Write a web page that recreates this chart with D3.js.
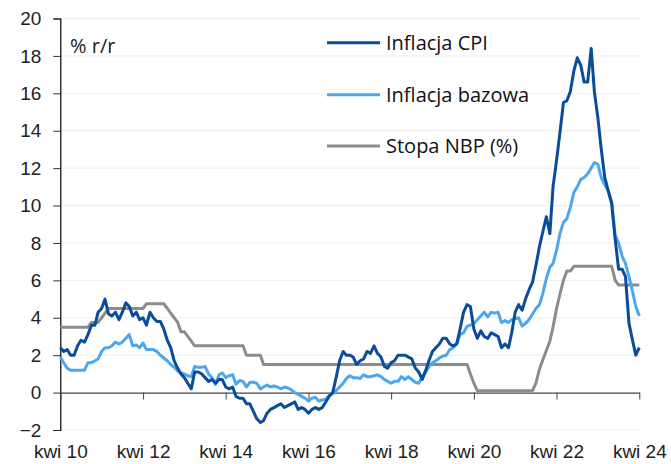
<!DOCTYPE html>
<meta charset="utf-8">
<style>
body { margin: 0; background: #fff; }
svg { display: block; font-family: "Open Sans", sans-serif; }
.tick_y text, .tick_x text { font-size: 19px; fill: #222; }
.leg { font-size: 20px; fill: #111; }
.unit { font-size: 20px; fill: #222; }
</style>
<svg width="671" height="464"></svg>
<script src="https://d3js.org/d3.v7.min.js"></script>
<script>
// monthly, kwi 2010 - kwi 2024
var firstMonth = new Date(2010, 3, 1),
    lastMonth = new Date(2024, 3, 1);

var cpi = [
  2.4, 2.2, 2.3, 2.0, 2.0, 2.5, 2.8, 2.7, 3.1,
  3.6, 3.6, 4.3, 4.5, 5.0, 4.2, 4.1, 4.3, 3.9, 4.3, 4.8, 4.6,
  4.1, 4.3, 3.9, 4.0, 3.6, 4.3, 4.0, 3.8, 3.8, 3.4, 2.8, 2.4,
  1.7, 1.3, 1.0, 0.8, 0.5, 0.2, 1.1, 1.1, 1.0, 0.8, 0.6, 0.7,
  0.5, 0.7, 0.7, 0.3, 0.2, 0.3, -0.2, -0.3, -0.3, -0.6, -0.6, -1.0,
  -1.4, -1.6, -1.5, -1.1, -0.9, -0.8, -0.7, -0.6, -0.8, -0.7, -0.6, -0.5,
  -0.9, -0.8, -0.9, -1.1, -0.9, -0.8, -0.9, -0.8, -0.5, -0.2, 0.0, 0.8,
  1.7, 2.2, 2.0, 2.0, 1.9, 1.5, 1.7, 1.8, 2.2, 2.1, 2.5, 2.1,
  1.9, 1.4, 1.3, 1.6, 1.7, 2.0, 2.0, 2.0, 1.9, 1.8, 1.3, 1.1,
  0.7, 1.2, 1.7, 2.2, 2.4, 2.6, 2.9, 2.9, 2.6, 2.5, 2.6, 3.4,
  4.3, 4.7, 4.6, 3.4, 2.9, 3.3, 3.0, 2.9, 3.2, 3.1, 3.0, 2.4,
  2.6, 2.4, 3.2, 4.3, 4.7, 4.4, 5.0, 5.5, 5.9, 6.8, 7.8, 8.6,
  9.4, 8.5, 11.0, 12.4, 13.9, 15.5, 15.6, 16.1, 17.2, 17.9, 17.5, 16.6,
  16.6, 18.4, 16.1, 14.7, 13.0, 11.5, 10.8, 10.1, 8.2, 6.6, 6.6, 6.2,
  3.7, 2.8, 2.0, 2.4
];

var core = [
  1.9, 1.6, 1.3, 1.2, 1.2, 1.2, 1.2, 1.2, 1.6,
  1.6, 1.7, 1.8, 2.2, 2.4, 2.4, 2.5, 2.7, 2.6, 2.7, 2.9, 3.1,
  2.5, 2.55, 2.4, 2.65, 2.3, 2.3, 2.3, 2.2, 2.0, 1.85, 1.7, 1.5,
  1.35, 1.15, 1.05, 1.0, 0.9, 0.85, 1.4, 1.35, 1.35, 1.4, 1.0, 0.8,
  0.45, 0.95, 1.05, 0.8, 0.9, 0.95, 0.45, 0.65, 0.6, 0.3, 0.55, 0.55,
  0.5, 0.2, 0.3, 0.4, 0.3, 0.35, 0.3, 0.2, 0.3, 0.25, 0.15, 0.0,
  -0.1, -0.2, -0.3, -0.45, -0.3, -0.25, -0.45, -0.4, -0.35, -0.15, -0.05, 0.1,
  0.3, 0.5, 0.75, 0.9, 0.8, 0.8, 0.75, 0.95, 0.85, 0.85, 0.9, 0.95,
  0.85, 0.7, 0.6, 0.5, 0.6, 0.6, 0.85, 0.7, 0.85, 0.7, 0.55, 0.5,
  0.85, 1.1, 1.4, 1.6, 1.7, 1.85, 1.95, 2.0, 2.3, 2.4, 2.6, 3.1,
  3.2, 3.55, 3.6, 3.7, 3.9, 4.1, 4.3, 4.05, 4.3, 4.25, 4.3, 3.75,
  3.85, 3.75, 3.9, 3.95, 4.0, 3.55, 3.7, 3.9, 4.2, 4.5, 4.7, 5.3,
  6.1, 6.7, 6.9, 7.6, 8.5, 9.1, 9.3, 9.9, 10.7, 11.0, 11.4, 11.5,
  11.7, 12.0, 12.3, 12.2, 11.5, 11.1, 10.8, 10.2, 8.4, 8.0, 7.3, 6.9,
  6.2, 5.4, 4.6, 4.1
];

var nbp = [
  3.5, 3.5, 3.5, 3.5, 3.5, 3.5, 3.5, 3.5, 3.5,
  3.75, 3.75, 3.75, 4.0, 4.25, 4.5, 4.5, 4.5, 4.5, 4.5, 4.5, 4.5,
  4.5, 4.5, 4.5, 4.5, 4.75, 4.75, 4.75, 4.75, 4.75, 4.75, 4.5, 4.25,
  4.0, 3.75, 3.25, 3.25, 3.0, 2.75, 2.5, 2.5, 2.5, 2.5, 2.5, 2.5,
  2.5, 2.5, 2.5, 2.5, 2.5, 2.5, 2.5, 2.5, 2.5, 2.0, 2.0, 2.0,
  2.0, 2.0, 1.5, 1.5, 1.5, 1.5, 1.5, 1.5, 1.5, 1.5, 1.5, 1.5,
  1.5, 1.5, 1.5, 1.5, 1.5, 1.5, 1.5, 1.5, 1.5, 1.5, 1.5, 1.5,
  1.5, 1.5, 1.5, 1.5, 1.5, 1.5, 1.5, 1.5, 1.5, 1.5, 1.5, 1.5,
  1.5, 1.5, 1.5, 1.5, 1.5, 1.5, 1.5, 1.5, 1.5, 1.5, 1.5, 1.5,
  1.5, 1.5, 1.5, 1.5, 1.5, 1.5, 1.5, 1.5, 1.5, 1.5, 1.5, 1.5,
  1.5, 1.5, 1.0, 0.5, 0.1, 0.1, 0.1, 0.1, 0.1, 0.1, 0.1, 0.1,
  0.1, 0.1, 0.1, 0.1, 0.1, 0.1, 0.1, 0.1, 0.1, 0.5, 1.25, 1.75,
  2.25, 2.75, 3.5, 4.5, 5.25, 6.0, 6.5, 6.5, 6.75, 6.75, 6.75, 6.75,
  6.75, 6.75, 6.75, 6.75, 6.75, 6.75, 6.75, 6.75, 6.0, 5.75, 5.75, 5.75,
  5.75, 5.75, 5.75, 5.75
];

var tickDates = [new Date(2010, 3, 1), new Date(2012, 3, 1), new Date(2014, 3, 1), new Date(2016, 3, 1),
                 new Date(2018, 3, 1), new Date(2020, 3, 1), new Date(2022, 3, 1), new Date(2024, 3, 1)];
var tickLabels = ["kwi 10", "kwi 12", "kwi 14", "kwi 16", "kwi 18", "kwi 20", "kwi 22", "kwi 24"];
var yTicks = [-2, 0, 2, 4, 6, 8, 10, 12, 14, 16, 18, 20];

var series = [
  {name: "Stopa NBP (%)", values: nbp, color: "#8c8c8c", ly: 146},
  {name: "Inflacja bazowa", values: core, color: "#4ca7ef", ly: 94.7},
  {name: "Inflacja CPI", values: cpi, color: "#0a4c99", ly: 42.7}
];

var svg = d3.select("svg");
var months = d3.timeMonth.range(firstMonth, d3.timeMonth.offset(lastMonth, 1));

var x = d3.scaleTime().domain([firstMonth, lastMonth]).range([60.3, 639.3]);
var y = d3.scaleLinear().domain([-2, 20]).range([430, 18.5]);

// grid
svg.append("g").selectAll("line").data(yTicks.filter(function(d) { return d !== 0; }))
  .enter().append("line")
  .attr("x1", x.range()[0]).attr("x2", x.range()[1] + 1)
  .attr("y1", function(d) { return y(d); }).attr("y2", function(d) { return y(d); })
  .attr("stroke", "#eeeeee").attr("stroke-width", 1);

// y axis
var gy = svg.append("g").attr("class", "tick_y")
  .attr("transform", "translate(" + x.range()[0] + ",0)")
  .call(d3.axisLeft(y).tickValues(yTicks).tickSize(7).tickPadding(12).tickFormat(d3.format("d")));
gy.select(".domain").attr("stroke", "#000").attr("stroke-width", 1.2);
gy.selectAll(".tick line").attr("stroke", "#333");

// zero line + x ticks
var gx = svg.append("g").attr("class", "tick_x")
  .attr("transform", "translate(0," + y(0) + ")")
  .call(d3.axisBottom(x).tickValues(tickDates).tickSize(7).tickSizeOuter(0)
        .tickFormat(function(d, i) { return tickLabels[i]; }));
gx.select(".domain").attr("stroke", "#444").attr("stroke-width", 1.2);
gx.selectAll(".tick line").attr("stroke", "#444");
gx.selectAll(".tick text").attr("y", 458.5 - y(0)).attr("dy", 0);

// lines
var line = d3.line()
  .x(function(d, i) { return x(months[i]); })
  .y(function(d) { return y(d); });

svg.append("g").selectAll("path").data(series).enter().append("path")
  .attr("d", function(s) { return line(s.values); })
  .attr("fill", "none")
  .attr("stroke", function(s) { return s.color; })
  .attr("stroke-width", 3)
  .attr("stroke-linejoin", "round");

// legend
var leg = svg.append("g").selectAll("g").data(series).enter().append("g");
leg.append("line")
  .attr("x1", 327).attr("x2", 380)
  .attr("y1", function(s) { return s.ly; }).attr("y2", function(s) { return s.ly; })
  .attr("stroke", function(s) { return s.color; }).attr("stroke-width", 3);
leg.append("text").attr("class", "leg")
  .attr("x", 386).attr("y", function(s) { return s.ly; }).attr("dy", "0.35em")
  .text(function(s) { return s.name; });

svg.append("text").attr("class", "unit").attr("x", 70).attr("y", 52.5).text("% r/r");
</script>
